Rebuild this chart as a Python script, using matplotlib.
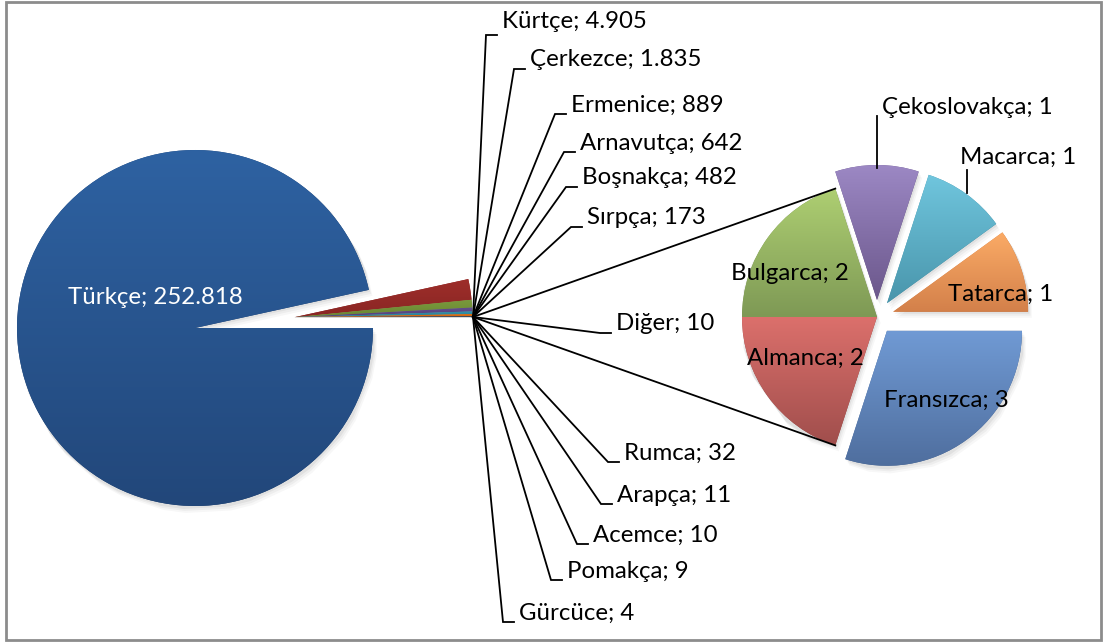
import matplotlib
matplotlib.use("Agg")
import matplotlib.pyplot as plt
import numpy as np
from matplotlib.colors import LinearSegmentedColormap
from matplotlib.patches import Rectangle

plt.rcParams['font.family'] = ['Lato', 'DejaVu Sans']

# main pie data
main_labels = ['Türkçe', 'Kürtçe', 'Çerkezce', 'Ermenice', 'Arnavutça', 'Boşnakça',
               'Sırpça', 'Diğer', 'Rumca', 'Arapça', 'Acemce', 'Pomakça', 'Gürcüce']
main_values = [252818, 4905, 1835, 889, 642, 482, 173, 10, 32, 11, 10, 9, 4]
main_text = ['252.818', '4.905', '1.835', '889', '642', '482', '173', '10', '32',
             '11', '10', '9', '4']

# second pie (Diğer broken down)
sub_labels = ['Fransızca', 'Almanca', 'Bulgarca', 'Çekoslovakça', 'Macarca', 'Tatarca']
sub_values = [3, 2, 2, 1, 1, 1]

main_top = ['#2e62a2', '#9e2e2a', '#7a9a3c', '#624d8f', '#3193ac', '#e56f12',
            '#2c4d75', '#772c2a', '#5f7530', '#4d3b62', '#276a7c', '#b65708', '#729aca']
main_bot = ['#22477a', '#8a2624', '#6a8734', '#54417a', '#2a7f94', '#d0640e',
            '#253f60', '#632523', '#4f6128', '#403152', '#215968', '#984807', '#5f82ad']
sub_top = ['#709ad4', '#dc706c', '#aecf72', '#9c88c4', '#70c6de', '#fbab66']
sub_bot = ['#4f6e9e', '#a04e4c', '#7e9955', '#6b578b', '#4995ab', '#d3804a']

W, H = 1103, 643
def Y(y):
    return H - y

fig = plt.figure(figsize=(W / 100, H / 100), dpi=100)
ax = fig.add_axes([0, 0, 1, 1])


def grad(ax, wedge, c_top, c_bot):
    ext = wedge.get_path().get_extents()
    cmap = LinearSegmentedColormap.from_list('g', [c_top, c_bot])
    im = ax.imshow(np.linspace(0, 1, 256).reshape(-1, 1), cmap=cmap, aspect='auto',
                   extent=(ext.x0, ext.x1, ext.y0, ext.y1), origin='upper', zorder=2)
    im.set_clip_path(wedge)
    wedge.set_facecolor(c_bot)


def shadow(ax, wedges):
    # soft drop shadow like Excel's
    for w in wedges:
        for k, a in ((6, 0.03), (4, 0.04), (2, 0.05)):
            s = plt.Polygon(w.get_path().vertices + np.array([k * 0.6, -k]), closed=True,
                            facecolor='black', alpha=a, lw=0, zorder=1)
            ax.add_patch(s)


# main pie; the small slices are pulled out together as one group
r1 = 178
c1 = (195, Y(328))
w1, _ = ax.pie(main_values, center=c1, radius=r1, startangle=0, counterclock=False,
               wedgeprops=dict(linewidth=0))
grp = np.deg2rad(180 * sum(main_values[1:]) / sum(main_values))
for w in w1[1:]:
    w.set_center((c1[0] + 100 * np.cos(grp), c1[1] + 100 * np.sin(grp)))
shadow(ax, w1[:1])
for w, ct, cb in zip(w1, main_top, main_bot):
    grad(ax, w, ct, cb)

# second pie
r2 = 135
c2 = (877, Y(317))
explode2 = [17, 0, 0, 17, 17, 17]
w2, _ = ax.pie(sub_values, center=c2, radius=r2, startangle=0, counterclock=False,
               explode=explode2, wedgeprops=dict(linewidth=0))
shadow(ax, w2)
for w, ct, cb in zip(w2, sub_top, sub_bot):
    grad(ax, w, ct, cb)

fs = 17.3
P = (473, Y(317))

# connector lines to second pie
for ang in (108, 252):
    a = np.deg2rad(ang)
    ax.plot([P[0], c2[0] + r2 * np.cos(a)], [P[1], c2[1] + r2 * np.sin(a)],
            color='black', lw=1.3, zorder=3)

# leader labels for small slices (text left x, text centre y)
lead_x = [502, 530, 571, 580, 582, 587, 616, 624, 617, 593, 567, 519]
lead_y = [22, 60, 105, 143, 178, 218, 324, 453, 495, 535, 571, 613]
for lab, txt, lx, ly in zip(main_labels[1:], main_text[1:], lead_x, lead_y):
    ty = ly + 9 if lab != 'Kürtçe' else ly + 13
    ax.plot([P[0], lx - 16, lx - 5], [P[1], Y(ty), Y(ty)], color='black', lw=1.3,
            zorder=3, solid_joinstyle='miter')
    ax.text(lx, Y(ly), f'{lab}; {txt}', fontsize=fs, va='center', ha='left', zorder=4)

# Türkçe label
ax.text(155, Y(297), f'{main_labels[0]}; {main_text[0]}', fontsize=fs, color='white',
        ha='center', va='center', zorder=4)

# second pie labels
ax.plot([877, 877], [Y(116), Y(168)], color='black', lw=1.3, zorder=3)
ax.text(882, Y(107), f'{sub_labels[3]}; {sub_values[3]}', fontsize=fs, va='center', zorder=4)
ax.plot([967, 967], [Y(170), Y(193)], color='black', lw=1.3, zorder=3)
ax.text(960, Y(157), f'{sub_labels[4]}; {sub_values[4]}', fontsize=fs, va='center', zorder=4)
ax.text(1001, Y(294), f'{sub_labels[5]}; {sub_values[5]}', fontsize=fs, ha='center', va='center', zorder=4)
ax.text(790, Y(274), f'{sub_labels[2]}; {sub_values[2]}', fontsize=fs, ha='center', va='center', zorder=4)
ax.text(805, Y(358), f'{sub_labels[1]}; {sub_values[1]}', fontsize=fs, ha='center', va='center', zorder=4)
ax.text(946, Y(400), f'{sub_labels[0]}; {sub_values[0]}', fontsize=fs, ha='center', va='center', zorder=4)

# chart border
ax.add_patch(Rectangle((6, Y(640)), 1095, 638, fill=False, edgecolor='#8c8c8c', lw=2, zorder=5))

ax.set_xlim(0, W)
ax.set_ylim(0, H)
ax.set_aspect('equal')
ax.axis('off')
fig.savefig('out.png', dpi=100)
